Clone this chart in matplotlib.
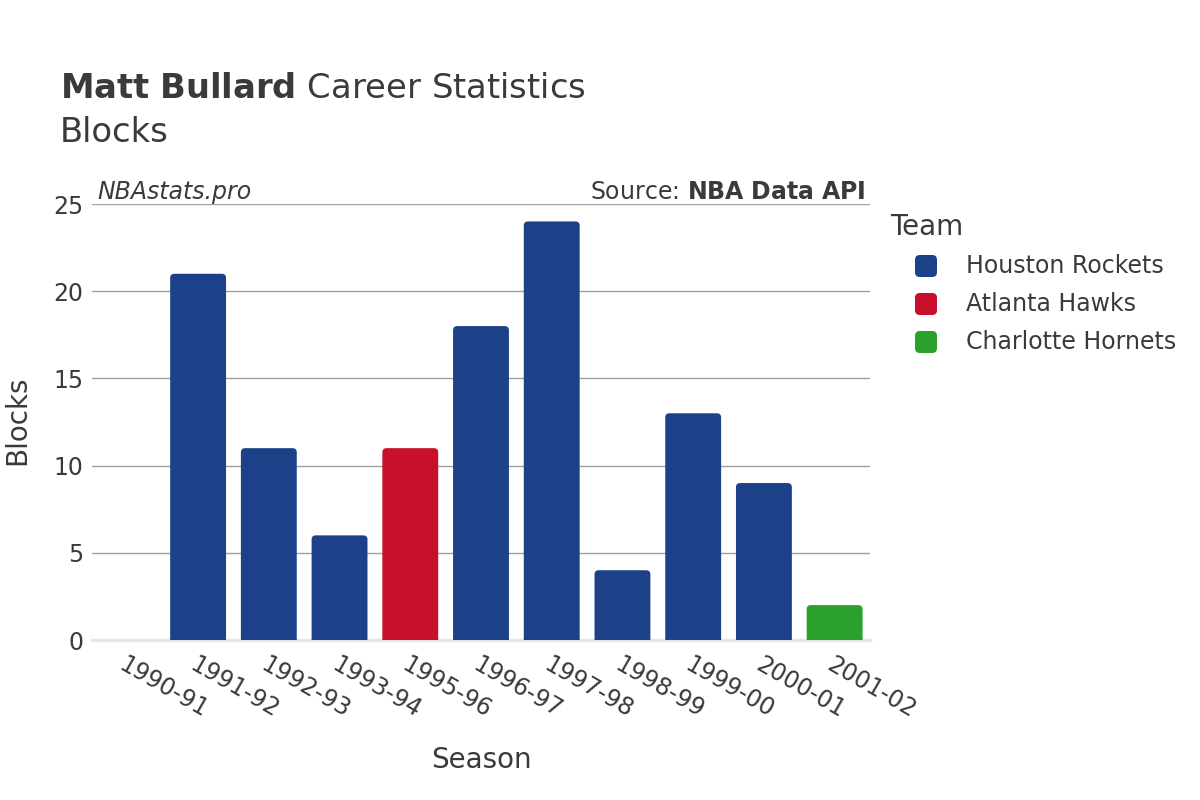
import matplotlib
matplotlib.use("Agg")
import matplotlib.pyplot as plt
from matplotlib.patches import FancyBboxPatch

seasons = ["1990-91", "1991-92", "1992-93", "1993-94", "1995-96", "1996-97",
           "1997-98", "1998-99", "1999-00", "2000-01", "2001-02"]
blocks = [0, 21, 11, 6, 11, 18, 24, 4, 13, 9, 2]
teams = ["Houston Rockets", "Houston Rockets", "Houston Rockets", "Houston Rockets",
         "Atlanta Hawks", "Houston Rockets", "Houston Rockets", "Houston Rockets",
         "Houston Rockets", "Houston Rockets", "Charlotte Hornets"]
team_order = ["Houston Rockets", "Atlanta Hawks", "Charlotte Hornets"]
team_colors = {"Houston Rockets": "#1C4189", "Atlanta Hawks": "#C8102E",
               "Charlotte Hornets": "#2CA02C"}
yticks = [0, 5, 10, 15, 20, 25]

plt.rcParams['font.family'] = ['DejaVu Sans']
TXT = "#3a3a3a"

fig = plt.figure(figsize=(12, 8), dpi=100)
ax = fig.add_axes([92/1200, 1-640/800, (870-92)/1200, (640-204)/800])

x = list(range(len(seasons)))
bars = ax.bar(x, blocks, width=0.79, color=[team_colors[t] for t in teams])
for b in list(bars):
    x0 = b.get_x(); w = b.get_width(); h = b.get_height()
    fc = b.get_facecolor()
    b.remove()
    if h <= 0:
        continue
    fb = FancyBboxPatch((x0, -0.5), w, h + 0.5,
                        boxstyle="round,pad=0,rounding_size=0.06",
                        mutation_aspect=4.0, facecolor=fc,
                        edgecolor="none", zorder=3)
    ax.add_patch(fb)

ax.set_xlim(-0.5, len(seasons) - 0.5)
ax.set_ylim(0, 25)
ax.set_yticks(yticks)
ax.set_yticklabels([str(v) for v in yticks], fontsize=17, color=TXT)
ax.set_xticks(x)
ax.set_xticklabels(seasons, rotation=-30, ha='left', va='top',
                   rotation_mode='anchor', fontsize=17, color=TXT)
ax.tick_params(axis='both', length=0)
ax.tick_params(axis='x', pad=9)
ax.tick_params(axis='y', pad=6)
for s in ax.spines.values():
    s.set_visible(False)
ax.grid(axis='y', color='#A0A0A0', linewidth=1, zorder=0)
ax.set_axisbelow(True)
ax.axhline(0, color='#E6E6E6', linewidth=2.5, zorder=2, clip_on=False)

fig.text(481/1200, 1-760/800, "Season", fontsize=20, color=TXT, ha='center', va='center')
fig.text(17/1200, 1-420/800, "Blocks", rotation=90, fontsize=20, color=TXT,
         ha='center', va='center')

# Titles
fig.text(60/1200, 1-88/800, r"$\bf{Matt\ Bullard}$" + " Career Statistics",
         fontsize=24.3, color=TXT, ha='left', va='center')
fig.text(60/1200, 1-132/800, "Blocks", fontsize=24.3, color=TXT, ha='left', va='center')

fig.text(97/1200, 1-192/800, "NBAstats.pro", fontsize=17, style='italic',
         color=TXT, ha='left', va='center')
fig.text(866/1200, 1-192/800, r"Source: $\bf{NBA\ Data\ API}$", fontsize=17,
         color=TXT, ha='right', va='center')

# Legend
fig.text(890/1200, 1-227/800, "Team", fontsize=20, color=TXT, ha='left', va='center')
for i, t in enumerate(team_order):
    yy = 1 - (266 + 38*i)/800
    fig.patches.append(FancyBboxPatch((915/1200, yy - 11/800), 22/1200, 22/800,
                                      boxstyle="round,pad=0,rounding_size=0.004",
                                      mutation_aspect=1.5,
                                      transform=fig.transFigure, facecolor=team_colors[t],
                                      edgecolor='none', figure=fig))
    fig.text(966/1200, yy, t, fontsize=17, color=TXT, ha='left', va='center')

fig.savefig("out.png", dpi=100)
